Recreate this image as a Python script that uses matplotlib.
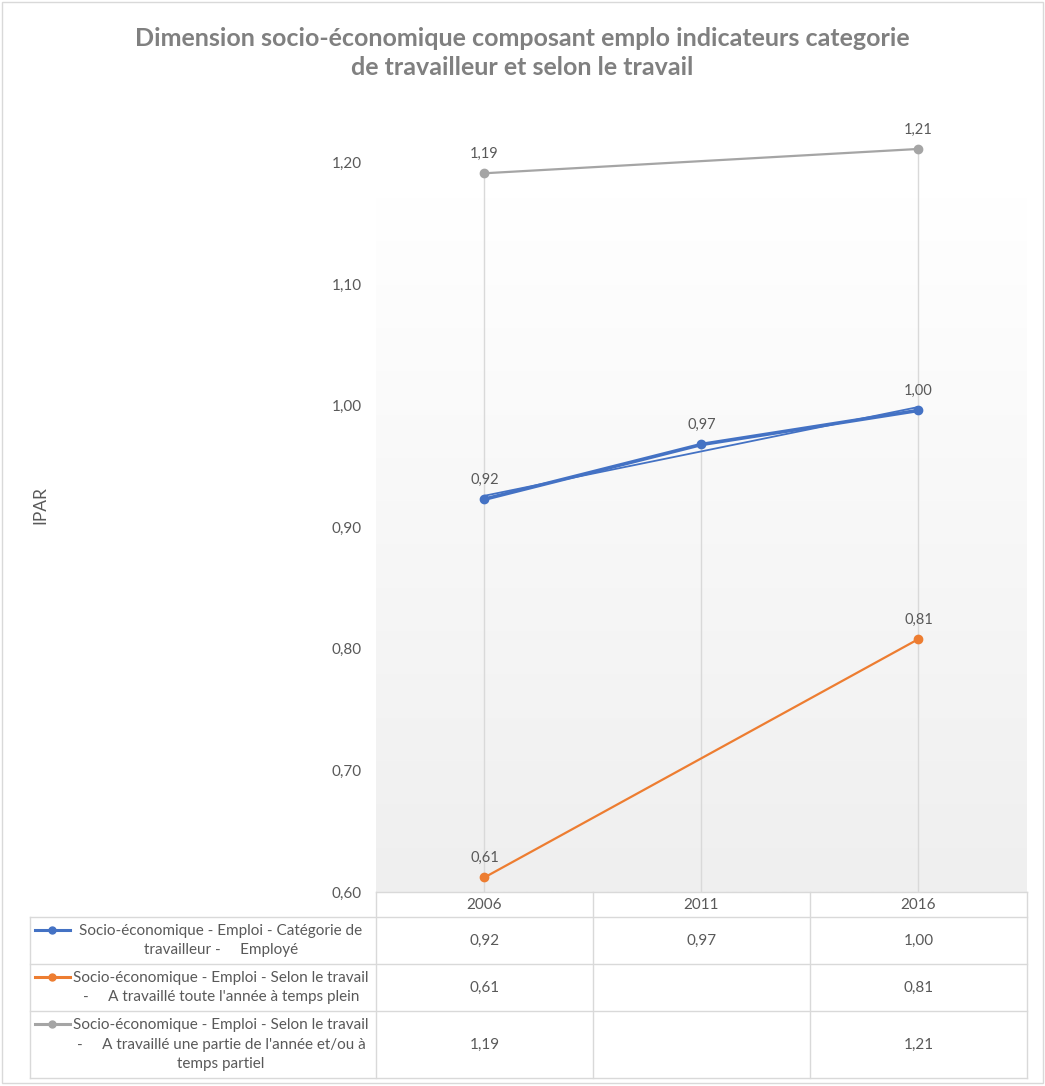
import matplotlib
matplotlib.use('Agg')
import matplotlib.pyplot as plt
import numpy as np
from matplotlib.lines import Line2D
from matplotlib.patches import Rectangle

plt.rcParams['font.family'] = ['Lato', 'DejaVu Sans']

# data
years = ['2006', '2011', '2016']
emploi_employe = [0.923, 0.968, 0.996]
temps_plein = [0.612, None, 0.808]
temps_partiel = [1.191, None, 1.211]
series_names = [
    "Socio-économique - Emploi - Catégorie de\ntravailleur -     Employé",
    "Socio-économique - Emploi - Selon le travail\n-     A travaillé toute l'année à temps plein",
    "Socio-économique - Emploi - Selon le travail\n-     A travaillé une partie de l'année et/ou à\ntemps partiel",
]
colors = ['#4472C4', '#ED7D31', '#A5A5A5']
yticks = [0.6, 0.7, 0.8, 0.9, 1.0, 1.1, 1.2]

W, H = 1045, 1086
fig = plt.figure(figsize=(W/100, H/100), dpi=100)

def fx(px):
    return px / W

def fy(py):
    return 1 - py / H

txt = '#595959'
grid = '#D9D9D9'

# chart border
fig.add_artist(Rectangle((fx(2), fy(1083)), fx(1041), 1081/H, transform=fig.transFigure,
                         fill=False, edgecolor=grid, lw=1))

ax = fig.add_axes([fx(376), fy(892), fx(1027) - fx(376), fy(138) - fy(892)])
ax.set_xlim(-0.5, 2.5)
ax.set_ylim(0.6, 1.22)
for s in ax.spines.values():
    s.set_visible(False)
ax.set_xticks([])
ax.set_yticks(yticks)
ax.set_yticklabels(['{:.2f}'.format(v).replace('.', ',') for v in yticks])
ax.tick_params(axis='y', length=0, pad=10, labelsize=11, labelcolor=txt)
ax.patch.set_alpha(0)

# gradient plot area fill
grad = np.linspace(1.0, 0.0, 256).reshape(-1, 1)
ax.imshow(grad, cmap=matplotlib.colors.LinearSegmentedColormap.from_list('g', ['#EFEFEF', '#FFFFFF']),
          extent=[0, 1, 0, (892 - 197) / (892 - 138)], transform=ax.transAxes,
          aspect='auto', zorder=0, origin='upper')

x = np.arange(len(years))
all_series = [emploi_employe, temps_plein, temps_partiel]

# drop lines
for i in range(len(years)):
    vals = [s[i] for s in all_series if s[i] is not None]
    ax.vlines(i, 0.6, max(vals), colors=grid, lw=1, zorder=1)

for k, (s, c) in enumerate(zip(all_series, colors)):
    xs = [i for i in x if s[i] is not None]
    ys = [s[i] for i in xs]
    lw = 2.6 if k == 0 else 1.6
    ax.plot(xs, ys, color=c, lw=lw, marker='o', ms=6, zorder=3)
    for xi, yi in zip(xs, ys):
        ax.annotate('{:.2f}'.format(yi).replace('.', ','), (xi, yi), xytext=(0, 14),
                    textcoords='offset points', ha='center', va='center',
                    fontsize=10.5, color=txt)

# linear trendline on first series
coef = np.polyfit(x, emploi_employe, 1)
ax.plot([x[0], x[-1]], np.polyval(coef, [x[0], x[-1]]), color=colors[0], lw=1.3, zorder=2)

# title and axis label
fig.text(0.5, fy(53), 'Dimension socio-économique composant emplo indicateurs categorie\nde travailleur et selon le travail',
         ha='center', va='center', fontsize=18, fontweight='bold', color='#808080', linespacing=1.3)
fig.text(fx(40), fy(505), 'IPAR', rotation=90, ha='center', va='center', fontsize=12.5, color=txt)

# data table
def hline(y, x0, x1):
    fig.add_artist(Line2D([fx(x0), fx(x1)], [fy(y), fy(y)], color=grid, lw=1))

def vline(xp, y0, y1):
    fig.add_artist(Line2D([fx(xp), fx(xp)], [fy(y0), fy(y1)], color=grid, lw=1))

col_edges = [376, 593, 810, 1027]
row_edges = [917, 964, 1011, 1078]
hline(892, 376, 1027)
for r in row_edges:
    hline(r, 30, 1027)
vline(30, 917, 1078)
for c in col_edges:
    vline(c, 892, 1078)

for i, yr in enumerate(years):
    cx = (col_edges[i] + col_edges[i + 1]) / 2
    fig.text(fx(cx), fy(905), yr, ha='center', va='center', fontsize=11, color=txt)

for k, (s, name, c) in enumerate(zip(all_series, series_names, colors)):
    top = row_edges[k]
    bot = row_edges[k + 1]
    cy = (top + bot) / 2
    for i in range(len(years)):
        if s[i] is not None:
            cx = (col_edges[i] + col_edges[i + 1]) / 2
            fig.text(fx(cx), fy(cy), '{:.2f}'.format(s[i]).replace('.', ','),
                     ha='center', va='center', fontsize=11, color=txt)
    fig.text(fx(221), fy(cy), name, ha='center', va='center', fontsize=11,
             color=txt, linespacing=1.5)
    ky = top + 13
    fig.add_artist(Line2D([fx(35), fx(70)], [fy(ky), fy(ky)], color=c, lw=2.2))
    fig.add_artist(Line2D([fx(52)], [fy(ky)], color=c, marker='o', ms=5))

plt.savefig('out.png', dpi=100)
